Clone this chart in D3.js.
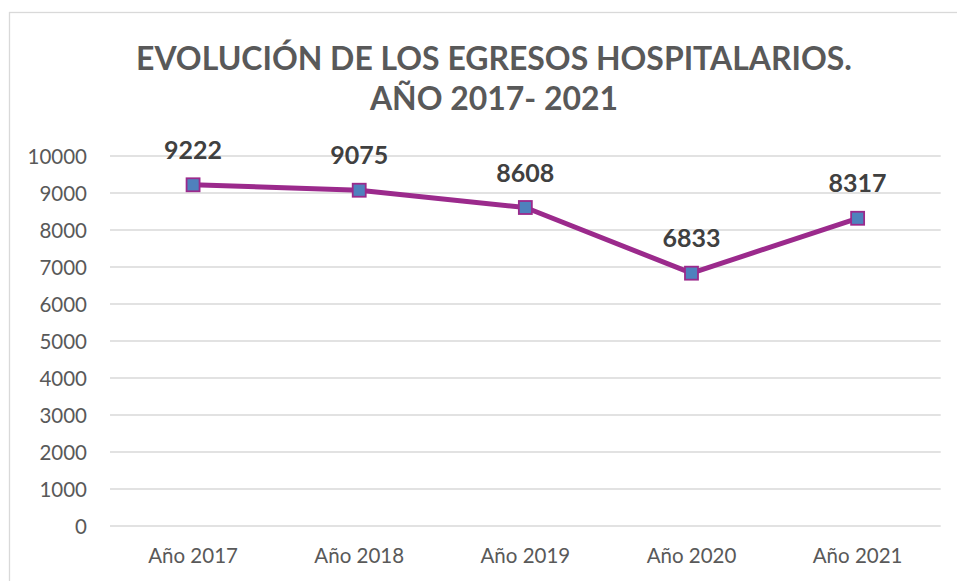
<!DOCTYPE html>
<html>
<head>
<meta charset="utf-8">
<script src="https://cdn.jsdelivr.net/npm/d3@7"></script>
<style>
  html, body { margin: 0; padding: 0; background: #fff; }
  svg { display: block; }
</style>
</head>
<body>
<div id="chart"></div>
<script>
const categories = ["Año 2017", "Año 2018", "Año 2019", "Año 2020", "Año 2021"];
const egresos = [9222, 9075, 8608, 6833, 8317];
const yTicks = [0, 1000, 2000, 3000, 4000, 5000, 6000, 7000, 8000, 9000, 10000];
const titleLines = ["EVOLUCIÓN DE LOS EGRESOS HOSPITALARIOS.", "AÑO 2017- 2021"];

const W = 957, H = 581;
const font = "Lato, 'Open Sans', sans-serif";
const svg = d3.select("#chart").append("svg").attr("width", W).attr("height", H);

// outer chart border
svg.append("rect").attr("x", 9.5).attr("y", 12.5).attr("width", W + 20).attr("height", H + 20)
  .attr("fill", "none").attr("stroke", "#d9d9d9").attr("stroke-width", 1.3);

const plot = { left: 110, right: 940.7, top: 156, bottom: 526 };

const x = d3.scaleBand().domain(categories).range([plot.left, plot.right]);
const y = d3.scaleLinear().domain([0, 10000]).range([plot.bottom, plot.top]);

// gridlines
svg.append("g").selectAll("line").data(yTicks).join("line")
  .attr("x1", plot.left).attr("x2", plot.right)
  .attr("y1", d => y(d)).attr("y2", d => y(d))
  .attr("stroke", "#d9d9d9").attr("stroke-width", 1.3);

// y axis
const yAxis = svg.append("g").attr("transform", `translate(${plot.left},0)`)
  .call(d3.axisLeft(y).tickValues(yTicks).tickSize(0).tickPadding(23).tickFormat(d3.format("d")));
yAxis.select(".domain").remove();
yAxis.selectAll("text").attr("fill", "#595959").attr("font-family", font).attr("font-size", 20.5)
  .attr("dy", "0.36em");

// x axis
const xAxis = svg.append("g").attr("transform", `translate(0,${plot.bottom})`)
  .call(d3.axisBottom(x).tickSize(0).tickPadding(22));
xAxis.select(".domain").remove();
xAxis.selectAll("text").attr("fill", "#595959").attr("font-family", font).attr("font-size", 20.5);

// line
const cx = d => x(d) + x.bandwidth() / 2;
const data = categories.map((c, i) => ({ c, v: egresos[i] }));
svg.append("path").datum(data)
  .attr("fill", "none").attr("stroke", "#9b2a8c").attr("stroke-width", 5)
  .attr("stroke-linejoin", "round")
  .attr("d", d3.line().x(d => cx(d.c)).y(d => y(d.v)));

// markers
const ms = 13;
svg.append("g").selectAll("rect").data(data).join("rect")
  .attr("x", d => cx(d.c) - ms / 2).attr("y", d => y(d.v) - ms / 2)
  .attr("width", ms).attr("height", ms)
  .attr("fill", "#4f81bd").attr("stroke", "#9b2a8c").attr("stroke-width", 1.8);

// data labels
svg.append("g").selectAll("text").data(data).join("text")
  .attr("x", d => cx(d.c)).attr("y", d => y(d.v) - 26)
  .attr("text-anchor", "middle").attr("font-family", font).attr("font-weight", 700)
  .attr("font-size", 25).attr("fill", "#404040").text(d => d.v);

// title
const tBase = [70, 110];
const title = titleLines.map((t, i) => svg.append("text").attr("x", 494).attr("y", tBase[i])
    .attr("text-anchor", "middle").attr("font-family", font).attr("font-weight", 700)
    .attr("font-size", 36).attr("fill", "#595959").text(t));
const len0 = title[0].node().getComputedTextLength();
if (len0 > 0) {
  const fs = 36 * 716 / len0;
  title.forEach(el => el.attr("font-size", fs));
}
</script>
</body>
</html>
